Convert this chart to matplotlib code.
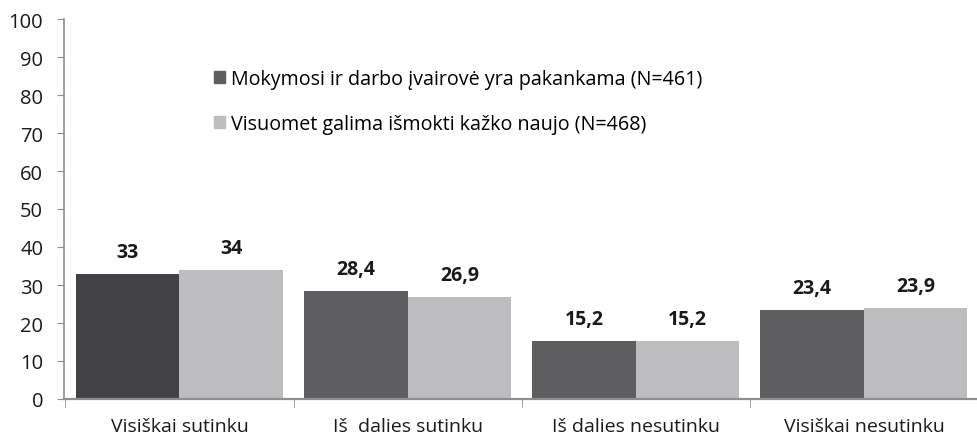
import matplotlib
matplotlib.use("Agg")
import matplotlib.pyplot as plt
import numpy as np

categories = ["Visiškai sutinku", "Iš  dalies sutinku", "Iš dalies nesutinku", "Visiškai nesutinku"]
series_names = ["Mokymosi ir darbo įvairovė yra pakankama (N=461)",
                "Visuomet galima išmokti kažko naujo (N=468)"]
values_a = [33, 28.4, 15.2, 23.4]
values_b = [34, 26.9, 15.2, 23.9]
labels_a = ["33", "28,4", "15,2", "23,4"]
labels_b = ["34", "26,9", "15,2", "23,9"]

plt.rcParams['font.family'] = ['Open Sans', 'DejaVu Sans']

DARK = "#5e5e60"
DARKEST = "#424244"
LIGHT = "#bdbdbf"
AXIS = "#8e8e90"

fig = plt.figure(figsize=(9.78, 4.35), dpi=100)
ax = fig.add_axes([64/978, 35/435, 914/978, 380/435])

x = np.arange(len(categories))
w = 0.4535
colors_a = [DARKEST] + [DARK] * (len(categories) - 1)
bars_a = ax.bar(x - w/2, values_a, w, color=colors_a, label=series_names[0])
bars_b = ax.bar(x + w/2, values_b, w, color=LIGHT, label=series_names[1])

for bars, labs in [(bars_a, labels_a), (bars_b, labels_b)]:
    for b, t in zip(bars, labs):
        ax.annotate(t, (b.get_x() + b.get_width()/2, b.get_height()),
                    xytext=(0, 12), textcoords="offset pixels",
                    ha="center", va="bottom", fontsize=14, fontweight="bold", color="#1a1a1a")

ax.set_ylim(0, 100)
ax.set_xlim(-0.506, 3.48)
ax.set_yticks(range(0, 101, 10))
ax.set_xticks(x)
ax.set_xticklabels(categories)
ax.set_xticks(np.arange(-0.5, 3.6, 1), minor=True)

for s in ["top", "right"]:
    ax.spines[s].set_visible(False)
ax.spines["left"].set_color(AXIS)
ax.spines["bottom"].set_color(AXIS)
ax.spines["left"].set_linewidth(1.2)
ax.spines["bottom"].set_linewidth(1.6)

ax.tick_params(axis="y", colors=AXIS, labelcolor="#1a1a1a", labelsize=14.5, length=5, pad=10)
ax.tick_params(axis="x", which="major", length=0, labelsize=14, labelcolor="#1a1a1a", pad=13)
ax.tick_params(axis="x", which="minor", length=6, color=AXIS, direction="out")

handles = [plt.Rectangle((0, 0), 1, 1, color=DARK), plt.Rectangle((0, 0), 1, 1, color=LIGHT)]
ax.legend(handles, series_names, loc="upper left", bbox_to_anchor=(196/978, 1 - 52/435),
          bbox_transform=fig.transFigure, frameon=False, fontsize=14.2,
          handlelength=0.55, handleheight=0.55, handletextpad=0.3, labelspacing=1.3)

fig.savefig("out.png", dpi=100)
